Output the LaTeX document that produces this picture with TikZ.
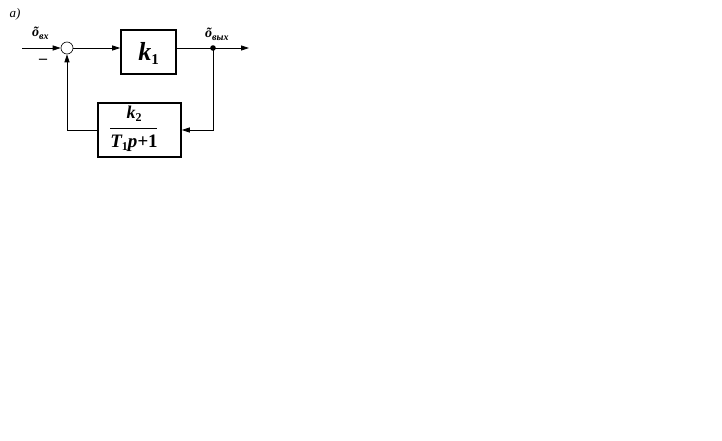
\documentclass[tikz,border=0pt]{standalone}
\usepackage{fontspec}
\setmainfont{Liberation Serif}
\usetikzlibrary{arrows.meta}
\begin{document}
\begin{tikzpicture}[x=1pt,y=-1pt,
  blk/.style={draw,line width=1.6pt,inner sep=0pt},
  conn/.style={line width=0.8pt},
  tip/.style={-{Triangle[length=8pt,width=5pt]}},
  lbl/.style={font=\bfseries\itshape\fontsize{14}{15}\selectfont,inner sep=0pt}]
\useasboundingbox (0,0) rectangle (722,441);
\node[font=\itshape\fontsize{13}{14}\selectfont,inner sep=0pt] (lab) at (15,14) {a)};
\coordinate (in) at (22,48);
\node[draw,circle,minimum size=12pt,inner sep=0pt,line width=0.6pt] (sum) at (67,48) {};
\node[blk,minimum width=55pt,minimum height=44pt] (k1) at (148.5,52) {};
\node[font=\bfseries\itshape\fontsize{26}{28}\selectfont,inner sep=0pt] (k1t) at (148.5,53) {k\raisebox{-4pt}{\fontsize{15}{16}\selectfont\upshape\bfseries 1}};
\node[blk,minimum width=83pt,minimum height=54pt] (fb) at (139.5,130) {};
\node[font=\bfseries\itshape\fontsize{18}{20}\selectfont,inner sep=0pt] (num) at (134,114) {k\raisebox{-3pt}{\fontsize{12}{13}\selectfont\upshape\bfseries 2}};
\node[font=\bfseries\itshape\fontsize{19}{20}\selectfont,inner sep=0pt] (den) at (134,143) {T\raisebox{-3pt}{\fontsize{12}{13}\selectfont\upshape\bfseries 1}p+\upshape 1};
\coordinate (barL) at (110,128);
\coordinate (barR) at (157,128);
\draw[line width=0.9pt] (barL) -- (barR);
\fill (213,48) circle (2.8pt) coordinate (dot);
\coordinate (out) at (249,48);
\coordinate (c1) at (213,130);
\coordinate (c2) at (67,130);
\draw[conn,tip] (in) -- (sum.west);
\draw[conn,tip] (sum.east) -- (sum.east -| k1.west);
\draw[conn] (sum.east -| k1.east) -- (dot);
\draw[conn,tip] (dot) -- (out);
\draw[conn,tip] (dot) -- (c1) -- (fb.east);
\draw[conn,tip] (fb.west) -- (c2) -- (sum.south);
\node[lbl,anchor=west] (xin) at (32,33) {õ\raisebox{-3pt}{\fontsize{10}{11}\selectfont вх}};
\node[font=\bfseries\fontsize{16}{17}\selectfont,inner sep=0pt] (minus) at (43,61) {–};
\node[lbl,anchor=west] (xout) at (205,34) {õ\raisebox{-3pt}{\fontsize{10}{11}\selectfont вых}};
\end{tikzpicture}
\end{document}
